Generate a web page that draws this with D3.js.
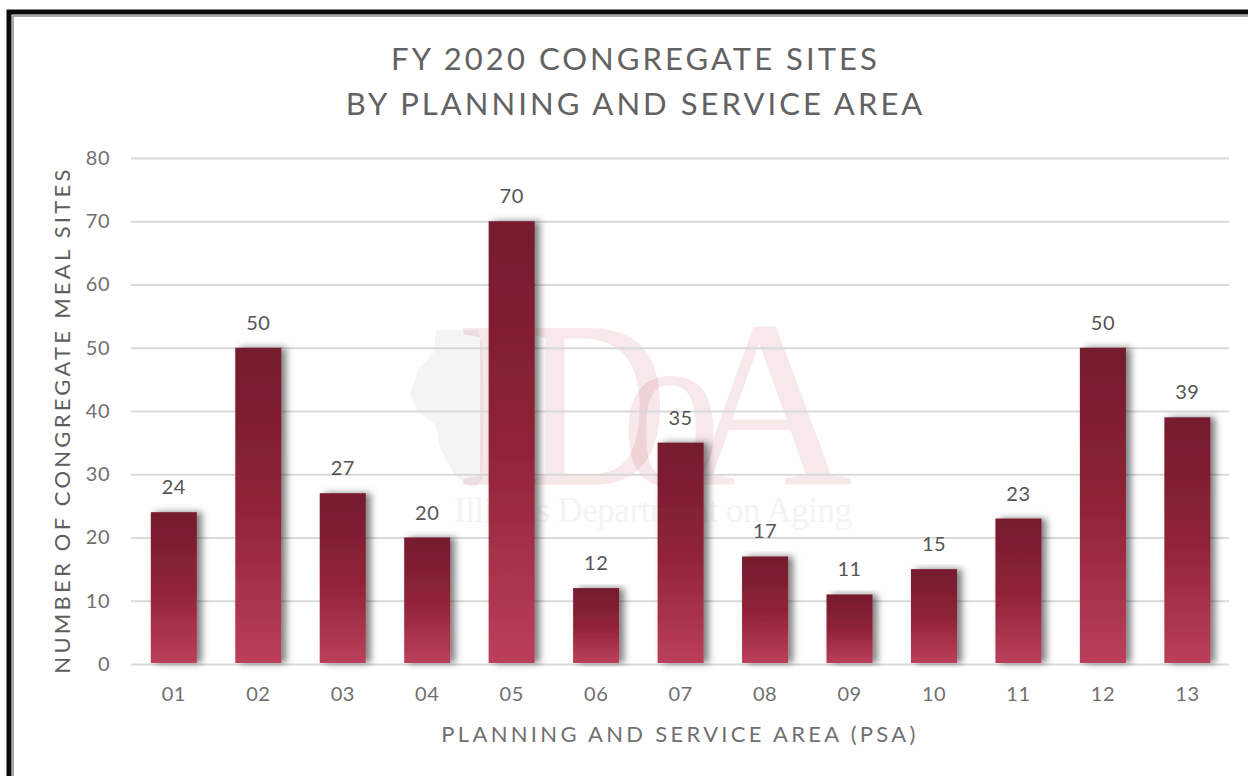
<!DOCTYPE html>
<html>
<head>
<meta charset="utf-8">
<script src="https://cdn.jsdelivr.net/npm/d3@7"></script>
<style>
html, body { margin: 0; padding: 0; background: #fff; overflow: hidden; }
text { font-family: Lato, "Open Sans", sans-serif; }
</style>
</head>
<body>
<svg width="1248" height="776"></svg>
<script>
var psaCodes = ["01", "02", "03", "04", "05", "06", "07", "08", "09", "10", "11", "12", "13"];
var siteCounts = [24, 50, 27, 20, 70, 12, 35, 17, 11, 15, 23, 50, 39];
var yTicks = [0, 10, 20, 30, 40, 50, 60, 70, 80];
var titleLines = ["FY 2020 CONGREGATE SITES", "BY PLANNING AND SERVICE AREA"];

var margin = {top: 158, right: 19, bottom: 112, left: 131},
    width = 1248,
    height = 776,
    svg = d3.select("svg");

var x = d3.scaleBand()
    .domain(psaCodes)
    .range([margin.left + 0.6, width - margin.right + 0.6])
    .paddingInner(0.455)
    .paddingOuter(0.2275);

var y = d3.scaleLinear()
    .domain([0, 80])
    .range([height - margin.bottom, margin.top]);

var defs = svg.append("defs");

var grad = defs.append("linearGradient")
    .attr("id", "barFill")
    .attr("x1", 0).attr("y1", 0).attr("x2", 0).attr("y2", 1);
grad.append("stop").attr("offset", "0%").attr("stop-color", "#741c2e");
grad.append("stop").attr("offset", "50%").attr("stop-color", "#8f2237");
grad.append("stop").attr("offset", "100%").attr("stop-color", "#bb3f5b");

var shadow = defs.append("filter")
    .attr("id", "barShadow")
    .attr("x", "-30%").attr("y", "-5%")
    .attr("width", "170%").attr("height", "110%");
shadow.append("feDropShadow")
    .attr("dx", 5).attr("dy", 0)
    .attr("stdDeviation", 3.5)
    .attr("flood-color", "#000")
    .attr("flood-opacity", 0.5);

// page frame
svg.append("rect").attr("x", 9).attr("y", 12).attr("width", 1260).attr("height", 800)
    .attr("fill", "none").attr("stroke", "#0a0a0a").attr("stroke-width", 5);
svg.append("rect").attr("x", 13).attr("y", 16).attr("width", 1260).attr("height", 800)
    .attr("fill", "none").attr("stroke", "#8c8c8c").attr("stroke-width", 1.5);

// watermark
var mark = svg.append("g").attr("class", "watermark");
mark.append("path")
    .attr("d", "M436 330 L478 330 L482 345 L484 400 L482 480 L474 488 L462 482 L452 470 L440 448 L436 425 L418 412 L410 395 L418 370 L434 352 Z")
    .attr("fill", "#f3f4f4");
var markLetters = mark.append("g").attr("fill", "#b22a40").attr("fill-opacity", 0.11)
    .style("font-family", "'Liberation Serif', serif");
markLetters.append("text")
    .attr("x", 456).attr("y", 485)
    .attr("font-size", 240)
    .style("font-family", "inherit")
    .attr("textLength", 212)
    .attr("lengthAdjust", "spacingAndGlyphs")
    .text("ID");
markLetters.append("text")
    .attr("x", 621).attr("y", 485)
    .attr("font-size", 230)
    .style("font-family", "inherit")
    .attr("textLength", 100)
    .attr("lengthAdjust", "spacingAndGlyphs")
    .text("o");
markLetters.append("text")
    .attr("x", 680).attr("y", 485)
    .attr("font-size", 240)
    .style("font-family", "inherit")
    .attr("textLength", 173)
    .attr("lengthAdjust", "spacingAndGlyphs")
    .text("A");
mark.append("text")
    .attr("x", 454).attr("y", 522)
    .attr("font-size", 35)
    .style("font-family", "'Liberation Serif', serif")
    .attr("fill", "#f5f3f3")
    .attr("textLength", 398)
    .text("Illinois Department on Aging");

// gridlines and y axis labels
var yAxis = d3.axisLeft(y)
    .tickValues(yTicks)
    .tickSize(-(width - margin.left - margin.right))
    .tickPadding(21);

var yG = svg.append("g")
    .attr("transform", "translate(" + margin.left + ",0)")
    .call(yAxis);
yG.select(".domain").remove();
yG.selectAll("line").attr("stroke", "#d9d9d9").attr("stroke-width", 2);
yG.selectAll("text")
    .attr("fill", "#707070")
    .style("font-size", "20px")
    .style("letter-spacing", "0.5px");

// x axis labels
var xAxis = d3.axisBottom(x).tickSize(0).tickPadding(23);
var xG = svg.append("g")
    .attr("transform", "translate(0," + (height - margin.bottom) + ")")
    .call(xAxis);
xG.select(".domain").remove();
xG.selectAll("text")
    .attr("fill", "#707070")
    .style("font-size", "20px")
    .style("letter-spacing", "0.5px");

// bars
svg.selectAll(".bar")
    .data(siteCounts)
    .enter().append("rect")
    .attr("class", "bar")
    .attr("x", function(d, i) { return x(psaCodes[i]); })
    .attr("y", function(d) { return y(d); })
    .attr("width", x.bandwidth())
    .attr("height", function(d) { return y(0) - y(d) - 1; })
    .attr("fill", "url(#barFill)")
    .attr("filter", "url(#barShadow)");

// value labels
svg.selectAll(".value")
    .data(siteCounts)
    .enter().append("text")
    .attr("class", "value")
    .attr("x", function(d, i) { return x(psaCodes[i]) + x.bandwidth() / 2; })
    .attr("y", function(d) { return y(d) - 18; })
    .attr("text-anchor", "middle")
    .attr("fill", "#555")
    .style("font-size", "20px")
    .style("letter-spacing", "0.5px")
    .text(function(d) { return d; });

// titles
svg.selectAll(".title")
    .data(titleLines)
    .enter().append("text")
    .attr("class", "title")
    .attr("x", 635.5)
    .attr("y", function(d, i) { return 70 + i * 44.5; })
    .attr("text-anchor", "middle")
    .attr("fill", "#626262")
    .style("font-size", "31px")
    .style("letter-spacing", "3.05px")
    .text(function(d) { return d; });

svg.append("text")
    .attr("x", 680).attr("y", 742)
    .attr("text-anchor", "middle")
    .attr("fill", "#707070")
    .style("font-size", "22px")
    .style("letter-spacing", "3.3px")
    .text("PLANNING AND SERVICE AREA (PSA)");

svg.append("text")
    .attr("transform", "translate(70,420) rotate(-90)")
    .attr("text-anchor", "middle")
    .attr("fill", "#5e5e5e")
    .style("font-size", "22px")
    .style("letter-spacing", "3.25px")
    .text("NUMBER OF CONGREGATE MEAL SITES");
</script>
</body>
</html>
